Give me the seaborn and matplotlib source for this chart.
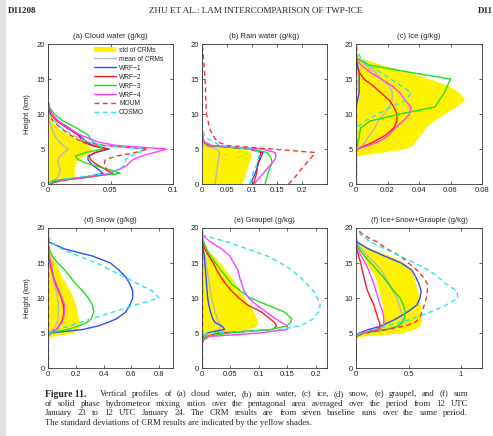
import numpy as np
import pandas as pd
import seaborn as sns
import matplotlib.pyplot as plt
from matplotlib.lines import Line2D
from matplotlib.patches import Patch, Rectangle
from matplotlib.ticker import FuncFormatter

# heights (km) shared by every profile
Z = [0, 0.5, 1, 1.5, 2, 2.5, 3, 3.5, 4, 4.5, 5, 5.5, 6, 6.5, 7, 8, 9, 10, 11, 12, 13, 14, 15, 16, 17, 18, 19, 20]

NAMES = ['mean of CRMs', 'WRF−1', 'WRF−2', 'WRF−3', 'WRF−4', 'MOUM', 'COSMO']

# (a) cloud water
cw_lo = [0] * 28
cw_hi = [0, .015, .020, .021, .021, .021, .022, .024, .028, .034, .035, .032, .028, .023, .017, .008, .003, .001, 0, 0, 0, 0, 0, 0, 0, 0, 0, 0]
cw_mean = [0, .005, .008, .009, .010, .009, .008, .008, .010, .013, .016, .012, .009, .007, .005, .003, .001, 0, 0, 0, 0, 0, 0, 0, 0, 0, 0, 0]
cw_wrf1 = [0, .010, .030, .044, .041, .037, .034, .032, .032, .038, .049, .036, .031, .028, .025, .017, .008, .003, .001, 0, 0, 0, 0, 0, 0, 0, 0, 0]
cw_wrf2 = [0, .010, .032, .052, .047, .042, .037, .034, .033, .038, .047, .035, .028, .026, .024, .015, .007, .002, 0, 0, 0, 0, 0, 0, 0, 0, 0, 0]
cw_wrf3 = [0, .004, .030, .058, .050, .040, .030, .024, .022, .030, .044, .040, .036, .034, .032, .023, .012, .005, .001, 0, 0, 0, 0, 0, 0, 0, 0, 0]
cw_wrf4 = [0, .008, .035, .048, .056, .062, .065, .068, .075, .085, .095, .055, .040, .033, .026, .016, .008, .003, .001, 0, 0, 0, 0, 0, 0, 0, 0, 0]
cw_moum = [0, .008, .030, .050, .047, .046, .045, .046, .055, .070, .080, .045, .028, .022, .018, .010, .004, .001, 0, 0, 0, 0, 0, 0, 0, 0, 0, 0]
cw_cosmo = [0, .006, .025, .048, .055, .060, .062, .062, .066, .073, .077, .045, .032, .025, .020, .011, .005, .001, 0, 0, 0, 0, 0, 0, 0, 0, 0, 0]

# (b) rain water
rw_lo = [0] * 28
rw_hi = [.079, .082, .085, .087, .089, .091, .093, .096, .099, .097, .085, .015, 0, 0, 0, 0, 0, 0, 0, 0, 0, 0, 0, 0, 0, 0, 0, 0]
rw_mean = [.026, .027, .028, .029, .030, .031, .032, .033, .034, .035, .030, .004, 0, 0, 0, 0, 0, 0, 0, 0, 0, 0, 0, 0, 0, 0, 0, 0]
rw_wrf1 = [.096, .100, .103, .106, .109, .111, .113, .116, .119, .122, .100, .015, .004, .002, .001, 0, 0, 0, 0, 0, 0, 0, 0, 0, 0, 0, 0, 0]
rw_wrf2 = [.103, .105, .107, .109, .110, .111, .112, .114, .116, .118, .095, .012, .003, .001, 0, 0, 0, 0, 0, 0, 0, 0, 0, 0, 0, 0, 0, 0]
rw_wrf3 = [.126, .128, .130, .132, .134, .137, .140, .139, .136, .130, .100, .015, .004, .002, .001, 0, 0, 0, 0, 0, 0, 0, 0, 0, 0, 0, 0, 0]
rw_wrf4 = [.105, .110, .116, .122, .128, .134, .140, .146, .148, .146, .120, .020, .005, .002, .001, 0, 0, 0, 0, 0, 0, 0, 0, 0, 0, 0, 0, 0]
rw_moum = [.173, .180, .186, .192, .197, .203, .209, .215, .221, .226, .140, .050, .032, .026, .021, .015, .012, .009, .008, .0075, .007, .007, .006, .005, .004, .003, .002, 0]
rw_cosmo = [.096, .098, .100, .102, .105, .108, .110, .112, .114, .115, .100, .035, .025, .010, .004, .001, 0, 0, 0, 0, 0, 0, 0, 0, 0, 0, 0, 0]

# (c) ice
ice_lo = [0] * 28
ice_hi = [0, 0, 0, 0, 0, 0, 0, 0, 0, .015, .030, .036, .037, .039, .041, .044, .049, .056, .063, .069, .066, .059, .047, .033, .017, .003, 0, 0]
ice_mean = [0, 0, 0, 0, 0, 0, 0, 0, 0, 0, .001, .004, .006, .007, .009, .012, .014, .018, .021, .023, .023, .021, .016, .012, .006, .001, 0, 0]
ice_wrf1 = [0, 0, 0, 0, 0, 0, 0, 0, 0, 0, 0, 0, 0, 0, 0, 0, 0, 0, 0, .001, .002, .002, .002, .002, .001, 0, 0, 0]
ice_wrf2 = [0, 0, 0, 0, 0, 0, 0, 0, 0, 0, .001, .006, .011, .015, .019, .024, .026, .026, .024, .021, .016, .011, .005, .002, 0, 0, 0, 0]
ice_wrf3 = [0, 0, 0, 0, 0, 0, 0, 0, 0, 0, 0, .001, .001, .002, .002, .003, .009, .028, .050, .053, .056, .058, .060, .033, .008, 0, 0, 0]
ice_wrf4 = [0, 0, 0, 0, 0, 0, 0, 0, 0, 0, .001, .008, .014, .018, .021, .025, .030, .034, .035, .031, .028, .023, .016, .009, .003, 0, 0, 0]
ice_moum = [0] * 28
ice_cosmo = [0, 0, 0, 0, 0, 0, 0, 0, 0, 0, 0, 0, 0, 0, 0, 0, .006, .014, .022, .032, .035, .029, .022, .015, .008, .003, .001, 0]

# (d) snow
sn_lo = [0] * 28
sn_hi = [0, 0, 0, 0, 0, 0, 0, 0, 0, .02, .18, .21, .22, .22, .22, .21, .20, .18, .16, .13, .10, .08, .055, .03, .005, 0, 0, 0]
sn_mean = [0, 0, 0, 0, 0, 0, 0, 0, 0, 0, .005, .04, .055, .065, .07, .075, .075, .07, .06, .045, .035, .025, .015, .008, .002, 0, 0, 0]
sn_wrf1 = [0, 0, 0, 0, 0, 0, 0, 0, 0, 0, .02, .25, .36, .43, .49, .56, .59, .61, .61, .59, .56, .51, .45, .32, .12, .005, 0, 0]
sn_wrf2 = [0, 0, 0, 0, 0, 0, 0, 0, 0, 0, .01, .06, .08, .095, .105, .115, .11, .095, .075, .055, .04, .025, .015, .007, .001, 0, 0, 0]
sn_wrf3 = [0, 0, 0, 0, 0, 0, 0, 0, 0, 0, .01, .14, .22, .28, .31, .33, .32, .29, .25, .20, .16, .12, .07, .03, .01, 0, 0, 0]
sn_wrf4 = [0, 0, 0, 0, 0, 0, 0, 0, 0, 0, .01, .06, .08, .10, .11, .12, .12, .10, .08, .06, .04, .03, .02, .01, .002, 0, 0, 0]
sn_moum = [0] * 28
sn_cosmo = [0, 0, 0, 0, 0, 0, 0, 0, 0, 0, .01, .07, .15, .23, .31, .47, .63, .80, .75, .65, .55, .45, .35, .22, .10, .02, 0, 0]

# (e) graupel
gr_lo = [0] * 28
gr_hi = [0, 0, 0, 0, 0, 0, 0, 0, 0, .005, .03, .08, .095, .099, .097, .091, .084, .075, .066, .059, .051, .042, .032, .021, .008, 0, 0, 0]
gr_mean = [0, 0, 0, 0, 0, 0, 0, 0, 0, .001, .008, .03, .033, .03, .027, .023, .02, .017, .015, .013, .011, .009, .007, .005, .002, 0, 0, 0]
gr_wrf1 = [0, 0, 0, 0, 0, 0, 0, 0, 0, .002, .01, .04, .035, .023, .019, .015, .012, .01, .009, .008, .007, .006, .005, .004, .002, 0, 0, 0]
gr_wrf2 = [0, 0, 0, 0, 0, 0, 0, 0, .002, .008, .03, .125, .131, .128, .12, .105, .08, .065, .052, .042, .033, .026, .02, .012, .005, .001, 0, 0]
gr_wrf3 = [0, 0, 0, 0, 0, 0, 0, 0, .002, .006, .05, .12, .149, .156, .158, .145, .115, .085, .068, .052, .043, .033, .024, .015, .008, .003, 0, 0]
gr_wrf4 = [0, 0, 0, 0, 0, 0, 0, 0, .003, .014, .10, .15, .15, .14, .13, .113, .096, .082, .074, .07, .066, .063, .056, .049, .035, .015, 0, 0]
gr_moum = [0] * 28
gr_cosmo = [0, 0, 0, 0, 0, 0, 0, 0, 0, 0, .01, .137, .172, .185, .195, .205, .208, .203, .196, .185, .172, .158, .138, .115, .08, .045, 0, 0]

# (f) ice + snow + graupel
tot_lo = [0, 0, 0, 0, 0, 0, 0, 0, 0, 0, 0, .12, .22, .25, .26, .26, .25, .24, .22, .20, .18, .14, .10, .07, .03, 0, 0, 0]
tot_hi = [0, 0, 0, 0, 0, 0, 0, 0, 0, .03, .42, .55, .60, .62, .62, .62, .61, .60, .59, .57, .55, .53, .46, .33, .15, 0, 0, 0]
tot_mean = [0, 0, 0, 0, 0, 0, 0, 0, 0, 0, .06, .30, .42, .44, .44, .43, .41, .39, .35, .32, .28, .24, .18, .11, .05, 0, 0, 0]
tot_wrf1 = [0, 0, 0, 0, 0, 0, 0, 0, 0, 0, .03, .12, .24, .31, .38, .49, .58, .61, .62, .60, .57, .53, .43, .27, .12, .01, 0, 0]
tot_wrf2 = [0, 0, 0, 0, 0, 0, 0, 0, 0, 0, .04, .20, .23, .225, .21, .19, .17, .14, .11, .09, .075, .06, .045, .025, .005, 0, 0, 0]
tot_wrf3 = [0, 0, 0, 0, 0, 0, 0, 0, 0, 0, .08, .29, .40, .44, .46, .47, .45, .42, .36, .31, .26, .20, .14, .08, .03, 0, 0, 0]
tot_wrf4 = [0, 0, 0, 0, 0, 0, 0, 0, 0, 0, .05, .22, .26, .265, .265, .255, .23, .21, .19, .17, .145, .12, .09, .05, .015, 0, 0, 0]
tot_moum = [0, 0, 0, 0, 0, 0, 0, 0, 0, 0, .08, .29, .47, .56, .60, .63, .65, .67, .68, .68, .64, .58, .50, .42, .30, .20, .07, 0]
tot_cosmo = [0, 0, 0, 0, 0, 0, 0, 0, 0, 0, .04, .17, .29, .42, .53, .71, .86, .97, .96, .86, .78, .69, .56, .42, .28, .14, .05, 0]

YELLOW = '#fff200'
COLORS = {'mean of CRMs': '#b9b9b9', 'WRF−1': '#2f4dff', 'WRF−2': '#ff1a1a', 'WRF−3': '#1fe01f',
          'WRF−4': '#ff40ff', 'MOUM': '#ff3030', 'COSMO': '#22e8f0'}
DASHES = {'mean of CRMs': '', 'WRF−1': '', 'WRF−2': '', 'WRF−3': '', 'WRF−4': '',
          'MOUM': (3.5, 2.5), 'COSMO': (3.5, 2.5)}

sns.set_theme(style='ticks')
plt.rcParams['font.family'] = ['Liberation Sans', 'DejaVu Sans']

W, H = 493, 436
fig = plt.figure(figsize=(W / 100, H / 100), dpi=100)
fig.patches.append(Rectangle((0, 0), 5 / W, 1, transform=fig.transFigure, color='#e3e3e7', zorder=-1))


def draw_panel(box, title, lo, hi, lines, xmax, xticks, ylabel=False):
    left, top, right, bottom = box
    ax = fig.add_axes([left / W, 1 - bottom / H, (right - left) / W, (bottom - top) / H])
    ax.fill_betweenx(Z, lo, hi, color=YELLOW, lw=0)
    df = pd.DataFrame({'height': Z * len(NAMES),
                       'value': sum(lines, []),
                       'model': np.repeat(NAMES, len(Z))})
    sns.lineplot(data=df, x='value', y='height', hue='model', style='model',
                 palette=COLORS, dashes=DASHES, sort=False, estimator=None,
                 legend=False, lw=1.0, ax=ax)
    ax.set_xlim(0, xmax)
    ax.set_ylim(0, 20)
    ax.set_xticks(xticks)
    ax.set_yticks([0, 5, 10, 15, 20])
    ax.xaxis.set_major_formatter(FuncFormatter(lambda v, p: '%g' % v))
    ax.tick_params(direction='in', length=2, width=0.5, top=True, right=True,
                   labelsize=5.5, pad=2, colors='#222222')
    for s in ax.spines.values():
        s.set_linewidth(0.6)
        s.set_color('#3a3a3a')
    ax.set_xlabel('')
    ax.set_ylabel('Height (km)' if ylabel else '', fontsize=5.5, labelpad=4)
    ax.set_title(title, fontsize=5.5, pad=4)
    return ax


ax_a = draw_panel((48, 44, 173, 184), '(a) Cloud water (g/kg)', cw_lo, cw_hi,
                  [cw_mean, cw_wrf1, cw_wrf2, cw_wrf3, cw_wrf4, cw_moum, cw_cosmo], 0.1, [0, 0.05, 0.1], True)
draw_panel((202, 44, 327, 184), '(b) Rain water (g/kg)', rw_lo, rw_hi,
           [rw_mean, rw_wrf1, rw_wrf2, rw_wrf3, rw_wrf4, rw_moum, rw_cosmo], 0.25, [0, 0.05, 0.1, 0.15, 0.2])
draw_panel((356, 44, 482, 184), '(c) Ice (g/kg)', ice_lo, ice_hi,
           [ice_mean, ice_wrf1, ice_wrf2, ice_wrf3, ice_wrf4, ice_moum, ice_cosmo], 0.08, [0, 0.02, 0.04, 0.06, 0.08])
draw_panel((48, 228, 173, 368), '(d) Snow (g/kg)', sn_lo, sn_hi,
           [sn_mean, sn_wrf1, sn_wrf2, sn_wrf3, sn_wrf4, sn_moum, sn_cosmo], 0.9, [0, 0.2, 0.4, 0.6, 0.8], True)
draw_panel((202, 228, 327, 368), '(e) Graupel (g/kg)', gr_lo, gr_hi,
           [gr_mean, gr_wrf1, gr_wrf2, gr_wrf3, gr_wrf4, gr_moum, gr_cosmo], 0.22, [0, 0.05, 0.1, 0.15, 0.2])
draw_panel((356, 228, 482, 368), '(f) Ice+Snow+Grauple (g/kg)', tot_lo, tot_hi,
           [tot_mean, tot_wrf1, tot_wrf2, tot_wrf3, tot_wrf4, tot_moum, tot_cosmo], 1.2, [0, 0.5, 1])

handles = [Patch(facecolor=YELLOW, edgecolor='none', label='std of CRMs')]
for m in NAMES:
    ls = (0, DASHES[m]) if DASHES[m] else '-'
    handles.append(Line2D([], [], color=COLORS[m], lw=1.0, ls=ls, label=m))
ax_a.legend(handles=handles, loc='upper left', bbox_to_anchor=(0.36, 0.985), frameon=False,
            fontsize=4.8, handlelength=3.3, handleheight=0.9, labelspacing=0.28,
            handletextpad=0.5, borderpad=0.1, borderaxespad=0)

# page header
serif = ['Liberation Serif', 'DejaVu Serif']
fig.text(8 / W, 1 - 11 / H, 'D11208', family=serif, weight='bold', fontsize=6.5, va='center')
fig.text(256 / W, 1 - 11 / H, 'ZHU ET AL.: LAM INTERCOMPARISON OF TWP-ICE', family=serif,
         fontsize=6.6, va='center', ha='center')
fig.text(478 / W, 1 - 11 / H, 'D11', family=serif, weight='bold', fontsize=6.5, va='center')

# caption, justified like the journal page
renderer = fig.canvas.get_renderer()
cap_size = 6.3


def justify(text, y, x0, x1):
    words = text.split()
    objs = [fig.text(0, 1 - y / H, w, family=serif, fontsize=cap_size, va='center') for w in words]
    widths = [o.get_window_extent(renderer).width for o in objs]
    gap = (x1 - x0 - sum(widths)) / (len(words) - 1)
    x = x0
    for o, w in zip(objs, widths):
        o.set_x(x / W)
        x += w + gap


fig.text(45 / W, 1 - 394 / H, 'Figure 11.', family=serif, weight='bold', fontsize=6.9, va='center')
justify('Vertical profiles of (a) cloud water, (b) rain water, (c) ice, (d) snow, (e) graupel, and (f) sum',
        394, 100, 468)
justify('of solid phase hydrometeor mixing ratios over the pentagonal area averaged over the period from 12 UTC',
        403.5, 45, 468)
justify('January 23 to 12 UTC January 24. The CRM results are from seven baseline runs over the same period.',
        413, 45, 468)
fig.text(45 / W, 1 - 422.5 / H, 'The standard deviations of CRM results are indicated by the yellow shades.',
         family=serif, fontsize=cap_size, va='center')

fig.savefig('out.png', dpi=100)
